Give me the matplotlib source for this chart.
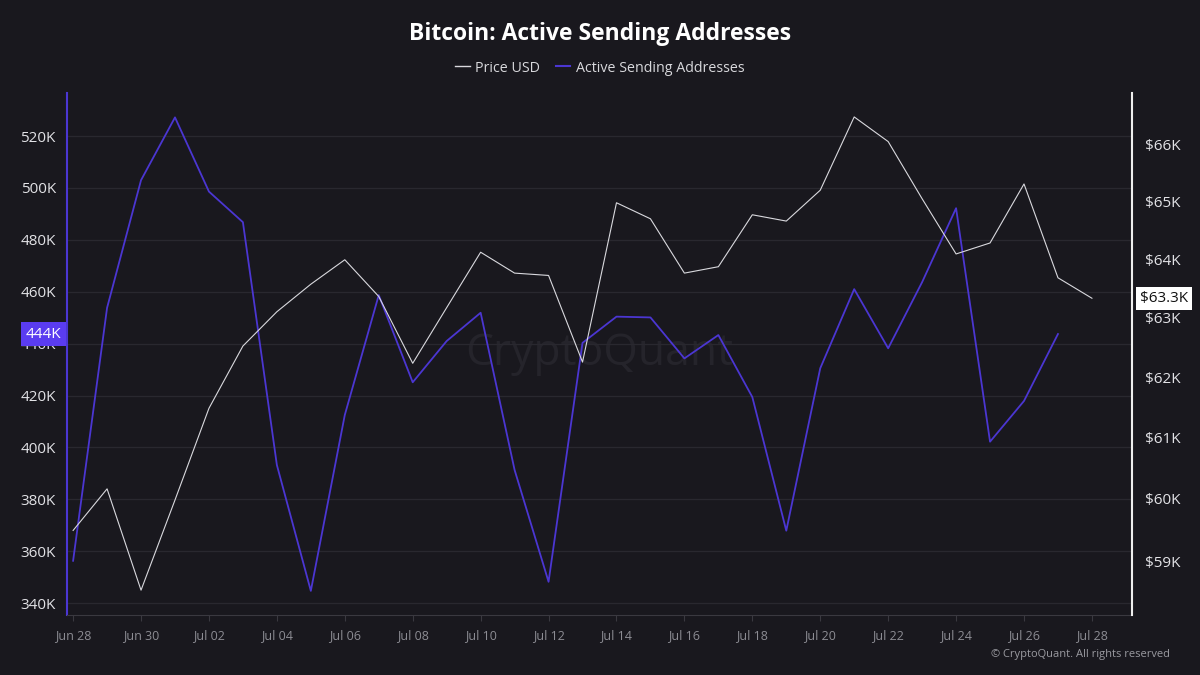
import matplotlib
matplotlib.use('Agg')
import numpy as np
import pandas as pd
import matplotlib.pyplot as plt
import matplotlib.dates as mdates
import matplotlib.ticker as mticker
import matplotlib.transforms as mtransforms
from matplotlib.lines import Line2D

plt.rcParams['font.family'] = ['Open Sans', 'DejaVu Sans']

# daily values
price_dates = pd.date_range('2024-06-28', '2024-07-28')
price_usd = [59490, 60160, 58540, 59980, 61480, 62520, 63100, 63570, 63990, 63360,
             62230, 63170, 64120, 63760, 63720, 62250, 64980, 64700, 63760, 63870,
             64770, 64660, 65200, 66500, 66060, 65050, 64090, 64280, 65310, 63680,
             63330]

addr_dates = pd.date_range('2024-06-28', '2024-07-27')
active_senders = [356300, 453800, 503000, 527200, 498600, 486800, 393200, 344700, 412500, 458700,
                  425100, 441000, 451900, 391300, 348200, 440300, 450400, 450100, 434300, 443300,
                  419400, 367900, 430500, 461000, 438200, 463700, 492200, 402200, 417900, 443700]

left_ticks = [340000, 360000, 380000, 400000, 420000, 440000, 460000, 480000, 500000, 520000]
right_ticks = [59000, 60000, 61000, 62000, 63000, 64000, 65000, 66000]

bg = '#19181e'
purple = '#4b36d2'
white_line = '#d9d9de'

fig = plt.figure(figsize=(12, 6.75), dpi=100, facecolor=bg)
ax = fig.add_axes([67/1200, 60/675, 1065/1200, 522/675])
ax.set_facecolor(bg)
ax2 = ax.twinx()

ax.plot(addr_dates, active_senders, color=purple, lw=1.3)
ax2.plot(price_dates, price_usd, color=white_line, lw=0.8)

# x axis
x0 = mdates.date2num(price_dates[0]) - 0.18
x1 = mdates.date2num(price_dates[-1]) + 1.18
ax.set_xlim(x0, x1)
ax.set_xticks(price_dates[::2])
ax.xaxis.set_major_formatter(mdates.DateFormatter('%b %d'))
ax.tick_params(axis='x', colors='#3a3940', labelcolor='#8c8c93', labelsize=9, length=4, pad=6)

# left axis
ax.set_ylim(335400, 536600)
ax.set_yticks(left_ticks)
ax.yaxis.set_major_formatter(mticker.FuncFormatter(lambda v, _: f'{v/1000:.0f}K'))
ax.tick_params(axis='y', length=0, labelcolor='#e2e2e6', labelsize=11, pad=8)
ax.yaxis.grid(True, color='#29282f', lw=0.9)
ax.set_axisbelow(True)

# right axis (log)
ax2.set_yscale('log')
ax2.set_ylim(58150, 66930)
ax2.set_yticks(right_ticks)
ax2.yaxis.set_minor_locator(mticker.NullLocator())
ax2.set_yticklabels([f'${v/1000:.0f}K' for v in right_ticks])
ax2.tick_params(axis='y', length=0, labelcolor='#e2e2e6', labelsize=11, pad=9)

for a in (ax, ax2):
    a.spines['top'].set_visible(False)
ax.spines['left'].set_color(purple)
ax.spines['left'].set_linewidth(1.5)
ax.spines['right'].set_visible(False)
ax.spines['bottom'].set_color('#3a3940')
ax2.spines['left'].set_visible(False)
ax2.spines['bottom'].set_visible(False)
ax2.spines['right'].set_color('#eeeeee')
ax2.spines['right'].set_linewidth(1.5)

# last-value tags
t1 = mtransforms.blended_transform_factory(ax.transAxes, ax.transData)
ax.text(-0.005, active_senders[-1], f'{active_senders[-1]/1000:.0f}K', transform=t1,
        ha='right', va='center', color='white', fontsize=11, zorder=5, clip_on=False,
        bbox=dict(boxstyle='square,pad=0.3', fc='#5a3cf0', ec='none'))
t2 = mtransforms.blended_transform_factory(ax2.transAxes, ax2.transData)
ax2.text(1.0075, price_usd[-1], f'${price_usd[-1]/1000:.1f}K', transform=t2,
         ha='left', va='center', color='#111111', fontsize=11, zorder=5, clip_on=False,
         bbox=dict(boxstyle='square,pad=0.25', fc='white', ec='none'))

# watermark
ax.text(0.5, 0.5, 'CryptoQuant', transform=ax.transAxes, fontsize=32, color='#25242b',
        ha='center', va='center', zorder=0)

fig.text(0.5, 1 - 34/675, 'Bitcoin: Active Sending Addresses', ha='center', va='center',
         fontsize=16.5, fontweight='bold', color='white')

handles = [Line2D([], [], color=white_line, lw=1), Line2D([], [], color=purple, lw=1.5)]
fig.legend(handles, ['Price USD', 'Active Sending Addresses'], loc='center',
           bbox_to_anchor=(0.5, 1 - 68/675), ncol=2, frameon=False, fontsize=10.3,
           labelcolor='#d8d8dc', handlelength=1.0, handletextpad=0.4, columnspacing=1.1)

fig.text(1170/1200, 1 - 654/675, '\u00a9 CryptoQuant. All rights reserved', ha='right',
         va='center', fontsize=8, color='#9a9aa0')

fig.savefig('out.png', dpi=100, facecolor=bg)
